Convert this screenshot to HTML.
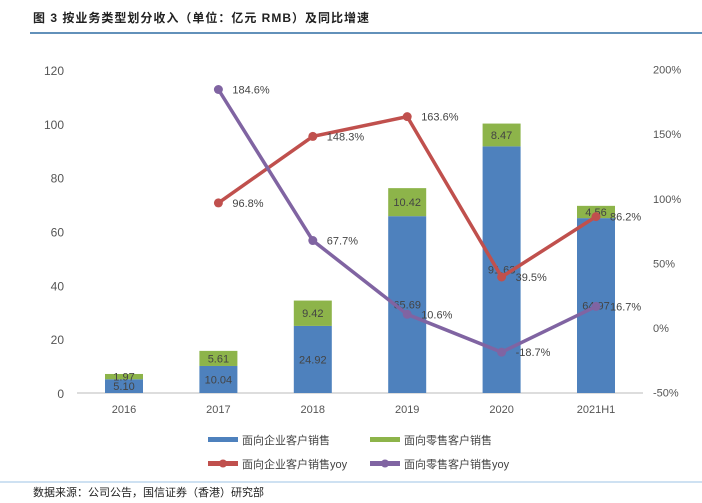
<!DOCTYPE html>
<html><head><meta charset="utf-8"><style>
body{margin:0;width:702px;height:498px;background:#fff;overflow:hidden;font-family:"Liberation Sans","Noto Sans CJK SC",sans-serif}
</style></head><body>
<svg width="702" height="498" xmlns="http://www.w3.org/2000/svg" font-family="Liberation Sans, Noto Sans CJK SC, sans-serif">
<text x="33" y="22" font-size="12" font-weight="bold" fill="#222" letter-spacing="1">图 3   按业务类型划分收入（单位：亿元 RMB）及同比增速</text>
<line x1="30" y1="33" x2="702" y2="33" stroke="#2e6da4" stroke-width="1.5"/>
<g id="chart"></g>
<line x1="0" y1="482" x2="702" y2="482" stroke="#9cc3e6" stroke-width="1"/>
<text x="33" y="496" font-size="11" fill="#222">数据来源：公司公告，国信证券（香港）研究部</text>
</svg>
<script>
const categories=["2016","2017","2018","2019","2020","2021H1"];
const enterprise=[5.10,10.04,24.92,65.69,91.63,64.97];
const retail=[1.97,5.61,9.42,10.42,8.47,4.56];
const enterpriseYoy=[null,96.8,148.3,163.6,39.5,86.2];
const retailYoy=[null,184.6,67.7,10.6,-18.7,16.7];
const leftTicks=[0,20,40,60,80,100,120];
const rightTicks=[-50,0,50,100,150,200];
const NS="http://www.w3.org/2000/svg";
const g=document.getElementById('chart');
function el(t,a,p){const e=document.createElementNS(NS,t);for(const k in a)e.setAttribute(k,a[k]);(p||g).appendChild(e);return e;}
const x=i=>124+i*94.4;
const yL=v=>393-v*(323/120);
const yR=v=>328-v*(323/250);
leftTicks.forEach(t=>{const e=el('text',{x:64,y:yL(t)+5,'text-anchor':'end','font-size':12,fill:'#555'});e.textContent=t;
});
rightTicks.forEach(t=>{const e=el('text',{x:653,y:yR(t)+4,'font-size':11,fill:'#555'});e.textContent=t+'%';
});
const ax=el('line',{x1:77,y1:393,x2:643,y2:393,stroke:'#bbb'});

categories.forEach((c,i)=>{const e=el('text',{x:x(i),y:413,'text-anchor':'middle','font-size':11,fill:'#555'});e.textContent=c;

const b1=el('rect',{x:x(i)-19,y:yL(enterprise[i]),width:38,height:yL(0)-yL(enterprise[i]),fill:'#4e81bd'});

const b2=el('rect',{x:x(i)-19,y:yL(enterprise[i]+retail[i]),width:38,height:yL(0)-yL(retail[i]),fill:'#8db44a'});

const t1=el('text',{x:x(i),y:yL(enterprise[i]/2)+4,'text-anchor':'middle','font-size':11,fill:'#444'});t1.textContent=enterprise[i].toFixed(2);

const t2=el('text',{x:x(i),y:yL(enterprise[i]+retail[i]/2)+4,'text-anchor':'middle','font-size':11,fill:'#444'});t2.textContent=retail[i].toFixed(2);

});
function line(vals,color,name){let d='';vals.forEach((v,i)=>{if(v===null)return;d+=(d?'L':'M')+x(i)+','+yR(v);});
const p=el('path',{d:d,fill:'none',stroke:color,'stroke-width':3.5});
vals.forEach((v,i)=>{if(v===null)return;const c=el('circle',{cx:x(i),cy:yR(v),r:4.5,fill:color});

const t=el('text',{x:x(i)+14,y:yR(v)+4,'font-size':11,fill:'#444'});t.textContent=v.toFixed(1)+'%';
});}
line(enterpriseYoy,'#c0504d','enterprise-yoy');
line(retailYoy,'#8064a2','retail-yoy');
const leg=[[208,440,'#4e81bd','面向企业客户销售',0],[370,440,'#8db44a','面向零售客户销售',0],[208,464,'#c0504d','面向企业客户销售yoy',1],[370,464,'#8064a2','面向零售客户销售yoy',1]];
leg.forEach(l=>{const r=el('rect',{x:l[0],y:l[1]-3,width:30,height:5,fill:l[2]});
if(l[4]){const c=el('circle',{cx:l[0]+15,cy:l[1]-0.5,r:4,fill:l[2]});}
const t=el('text',{x:l[0]+34,y:l[1]+4,'font-size':11,fill:'#444'});t.textContent=l[3];});
</script>
</body></html>
